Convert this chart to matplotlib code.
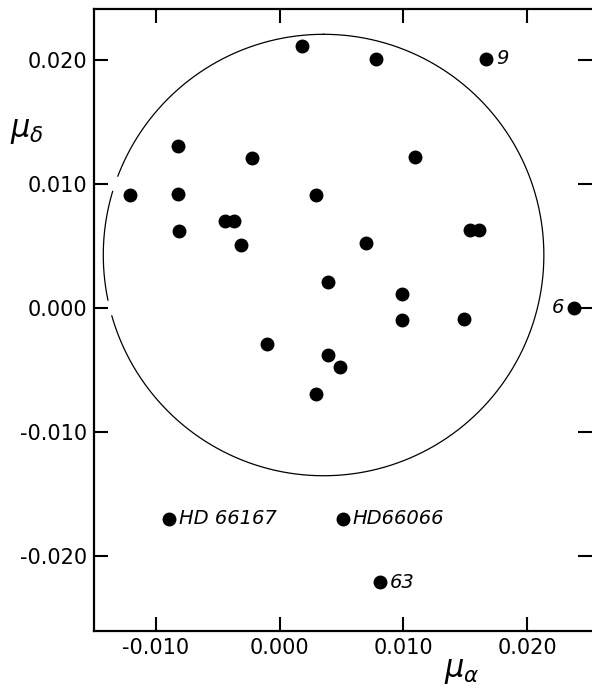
import numpy as np
import matplotlib
matplotlib.use("Agg")
import matplotlib.pyplot as plt

# proper motions (mu_alpha, mu_delta) of the cluster stars
mu_a = [0.0018, 0.0078, -0.0082, -0.0022, 0.0109, -0.0121, -0.0082, 0.0029,
        -0.0044, -0.0037, -0.0081, -0.0031, 0.0070, 0.0154, 0.0161, 0.0039,
        0.0099, 0.0099, 0.0149, -0.0010, 0.0039, 0.0049, 0.0029]
mu_d = [0.0211, 0.0201, 0.0131, 0.0121, 0.0122, 0.0091, 0.0092, 0.0091,
        0.0070, 0.0070, 0.0062, 0.0051, 0.0052, 0.0063, 0.0063, 0.0021,
        0.0011, -0.0010, -0.0009, -0.0029, -0.0038, -0.0048, -0.0069]

# labelled stars
lab_names = ["9", "6", "HD 66167", "HD66066", "63"]
lab_a = [0.0167, 0.0238, -0.0089, 0.0051, 0.0081]
lab_d = [0.0201, 0.0000, -0.0170, -0.0170, -0.0221]
lab_side = ["right", "left", "right", "right", "right"]

# membership circle
circ_x0 = 0.00355
circ_y0 = 0.00427
circ_r = 0.0178

xticks = [-0.010, 0.000, 0.010, 0.020]
yticks = [-0.020, -0.010, 0.000, 0.010, 0.020]

fig = plt.figure(figsize=(5.92, 6.90), dpi=100)
ax = fig.add_axes([94 / 592, 1 - 631 / 690, 1 - 94 / 592, 622 / 690])

# circle, broken where the left ticks cross it
t = np.linspace(0.5 * np.pi, 2.5 * np.pi, 1200)
cx = circ_x0 + circ_r * np.cos(t)
cy = circ_y0 + circ_r * np.sin(t)
for yt in [0.010, 0.000]:
    gap = (cx < circ_x0) & (np.abs(cy - yt) < 0.0006)
    cy = np.where(gap, np.nan, cy)
ax.plot(cx, cy, color="black", lw=0.9)

ax.plot(mu_a, mu_d, "o", color="black", ms=9, mec="black")
ax.plot(lab_a, lab_d, "o", color="black", ms=9, mec="black")
for name, a, d, side in zip(lab_names, lab_a, lab_d, lab_side):
    if side == "right":
        ax.annotate(name, (a, d), xytext=(7, 0), textcoords="offset points",
                    ha="left", va="center", fontsize=14, style="italic")
    else:
        ax.annotate(name, (a, d), xytext=(-7, 0), textcoords="offset points",
                    ha="right", va="center", fontsize=14, style="italic")

ax.set_xlim(-0.0150, 0.02524)
ax.set_ylim(-0.02605, 0.02411)
ax.set_xticks(xticks)
ax.set_yticks(yticks)
ax.set_xticklabels(["-0.010", "0.000", "0.010", "0.020"])
ax.set_yticklabels(["-0.020", "-0.010", "0.000", "0.010", "0.020"])
ax.tick_params(direction="in", length=10, width=1.5, labelsize=15,
               top=True, right=True, pad=5)
ax.spines["right"].set_visible(False)
for s in ["left", "top", "bottom"]:
    ax.spines[s].set_linewidth(1.6)

fig.text(27 / 592, 1 - 132 / 690, r"$\mu_\delta$", fontsize=22,
         ha="center", va="center")
fig.text(462 / 592, 1 - 672 / 690, r"$\mu_\alpha$", fontsize=22,
         ha="center", va="center")

fig.savefig("out.png", dpi=100)
